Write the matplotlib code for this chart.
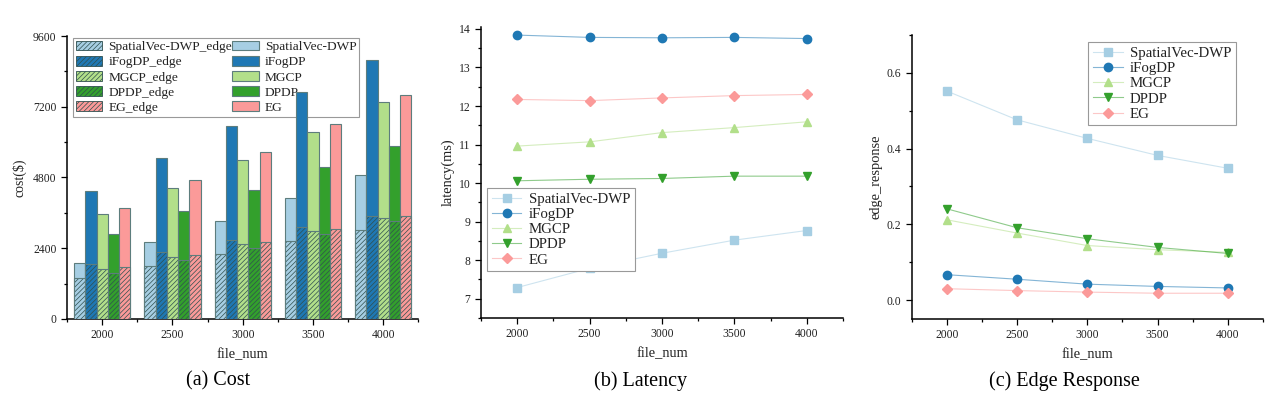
import numpy as np
import matplotlib
matplotlib.use("Agg")
import matplotlib.pyplot as plt
from matplotlib.ticker import MultipleLocator

# Liberation Serif has about the same widths as the SimSun latin glyphs
plt.rcParams['font.family'] = ['Liberation Serif', 'DejaVu Serif']
plt.rcParams['hatch.linewidth'] = 0.5

#########
# DATA
#########

file_num = [2000, 2500, 3000, 3500, 4000]
methods = ["SpatialVec-DWP", "iFogDP", "MGCP", "DPDP", "EG"]
colors = ["#a6cee3", "#1f78b4", "#b2df8a", "#33a02c", "#fb9a99"]
markers = ["s", "o", "^", "v", "D"]

# (a) cost, total and edge part
cost_total = {
    "SpatialVec-DWP": [1910, 2600, 3330, 4090, 4870],
    "iFogDP": [4350, 5470, 6560, 7690, 8790],
    "MGCP": [3560, 4460, 5410, 6360, 7350],
    "DPDP": [2900, 3650, 4390, 5140, 5880],
    "EG": [3770, 4710, 5650, 6630, 7610],
}
cost_edge = {
    "SpatialVec-DWP": [1380, 1810, 2210, 2630, 3030],
    "iFogDP": [1850, 2260, 2670, 3110, 3510],
    "MGCP": [1710, 2110, 2530, 2990, 3410],
    "DPDP": [1550, 1990, 2420, 2870, 3310],
    "EG": [1750, 2170, 2600, 3040, 3480],
}

# (b) latency (ms)
latency = {
    "SpatialVec-DWP": [7.29, 7.79, 8.18, 8.52, 8.77],
    "iFogDP": [13.84, 13.78, 13.77, 13.78, 13.75],
    "MGCP": [10.96, 11.07, 11.31, 11.44, 11.59],
    "DPDP": [10.06, 10.10, 10.12, 10.18, 10.18],
    "EG": [12.17, 12.14, 12.21, 12.27, 12.30],
}

# (c) edge response
edge_resp = {
    "SpatialVec-DWP": [0.552, 0.476, 0.427, 0.382, 0.348],
    "iFogDP": [0.067, 0.055, 0.042, 0.036, 0.032],
    "MGCP": [0.212, 0.177, 0.144, 0.133, 0.126],
    "DPDP": [0.241, 0.191, 0.162, 0.139, 0.123],
    "EG": [0.030, 0.025, 0.021, 0.018, 0.018],
}

#########
# FIGURE
#########

fig = plt.figure(figsize=(12.79, 3.97), dpi=100)
ax_a = fig.add_axes([0.0524, 0.1965, 0.2748, 0.7128])
ax_b = fig.add_axes([0.3761, 0.1990, 0.2830, 0.7330])
ax_c = fig.add_axes([0.7128, 0.1965, 0.2747, 0.7153])

TXT = "#222222"


def style_axis(ax):
    for side in ["top", "right"]:
        ax.spines[side].set_visible(False)
    for side in ["left", "bottom"]:
        ax.spines[side].set_linewidth(1.1)
    ax.tick_params(which="major", direction="out", length=4, width=0.9,
                   labelsize=8.4, labelcolor=TXT)
    ax.tick_params(which="minor", direction="out", length=2, width=0.9)
    ax.set_xlim(1750, 4250)
    ax.xaxis.set_major_locator(MultipleLocator(500))
    ax.xaxis.set_minor_locator(MultipleLocator(250))
    ax.set_xlabel("file_num", fontsize=10.4, labelpad=5, color=TXT)


# (a) cost bars
bar_w = 80
x = np.array(file_num)
handles_edge = []
handles_total = []
for i, m in enumerate(methods):
    xs = x + (i - 2) * bar_w
    ht = ax_a.bar(xs, cost_total[m], width=bar_w, color=colors[i],
                  edgecolor="#5d7d7d", linewidth=0.8, zorder=2)
    he = ax_a.bar(xs, cost_edge[m], width=bar_w, color=colors[i],
                  edgecolor="#2f4f4f", linewidth=0.6, hatch="///////", zorder=3)
    # outline of edge part in lighter tone
    ax_a.bar(xs, cost_edge[m], width=bar_w, fill=False,
             edgecolor="#5d7d7d", linewidth=0.8, zorder=4)
    handles_total.append((ht, m))
    handles_edge.append((he, m + "_edge"))

style_axis(ax_a)
ax_a.set_ylim(0, 9600)
ax_a.yaxis.set_major_locator(MultipleLocator(2400))
ax_a.yaxis.set_minor_locator(MultipleLocator(1200))
ax_a.set_ylabel("cost($)", fontsize=10, labelpad=5, color=TXT)
hs = [h for h, _ in handles_edge] + [h for h, _ in handles_total]
ls = [l for _, l in handles_edge] + [l for _, l in handles_total]
leg = ax_a.legend(hs, ls, ncol=2, loc="upper left", bbox_to_anchor=(0.017, 0.993),
                  borderaxespad=0, fontsize=9.6, fancybox=False, edgecolor="#999999",
                  framealpha=1, handlelength=2.0, handleheight=0.75,
                  labelspacing=0.2, columnspacing=0.0, handletextpad=0.45,
                  borderpad=0.2)
leg.get_frame().set_linewidth(0.8)
for t in leg.get_texts():
    t.set_color(TXT)
leg.set_zorder(1)


def line_panel(ax, data):
    for i, m in enumerate(methods):
        rgb = matplotlib.colors.to_rgb(colors[i])
        ax.plot(file_num, data[m], color=rgb + (0.55,), linewidth=0.8,
                marker=markers[i], markersize=6 if markers[i] != "D" else 5,
                markerfacecolor=colors[i], markeredgecolor=colors[i], label=m)


def line_legend(ax, loc, anchor):
    lg = ax.legend(loc=loc, bbox_to_anchor=anchor, borderaxespad=0,
                   fontsize=10.7, fancybox=False, edgecolor="#999999", framealpha=1,
                   handlelength=2.0, handletextpad=0.5, labelspacing=0.12,
                   borderpad=0.3)
    lg.get_frame().set_linewidth(0.8)
    for t in lg.get_texts():
        t.set_color(TXT)
    return lg


# (b) latency
line_panel(ax_b, latency)
style_axis(ax_b)
ax_b.set_ylim(6.5, 14.05)
ax_b.yaxis.set_major_locator(MultipleLocator(1))
ax_b.yaxis.set_minor_locator(MultipleLocator(0.5))
ax_b.set_ylabel("latency(ms)", fontsize=10.4, labelpad=3, color=TXT)
line_legend(ax_b, "upper left", (0.017, 0.447))

# (c) edge response
line_panel(ax_c, edge_resp)
style_axis(ax_c)
ax_c.set_ylim(-0.05, 0.7)
ax_c.yaxis.set_major_locator(MultipleLocator(0.2))
ax_c.yaxis.set_minor_locator(MultipleLocator(0.1))
ax_c.yaxis.set_major_formatter(matplotlib.ticker.FormatStrFormatter("%.1f"))
ax_c.set_ylabel("edge_response", fontsize=10.4, labelpad=3, color=TXT)
line_legend(ax_c, "upper right", (0.923, 0.975))

# captions
cap_kw = dict(fontsize=14.5, ha="center", va="center")
fig.text(218 / 1279, 1 - 381 / 397, "(a) Cost", **cap_kw)
fig.text(641 / 1279, 1 - 381 / 397, "(b) Latency", **cap_kw)
fig.text(1064 / 1279, 1 - 381 / 397, "(c) Edge Response", **cap_kw)

fig.savefig("out.png", dpi=100)
